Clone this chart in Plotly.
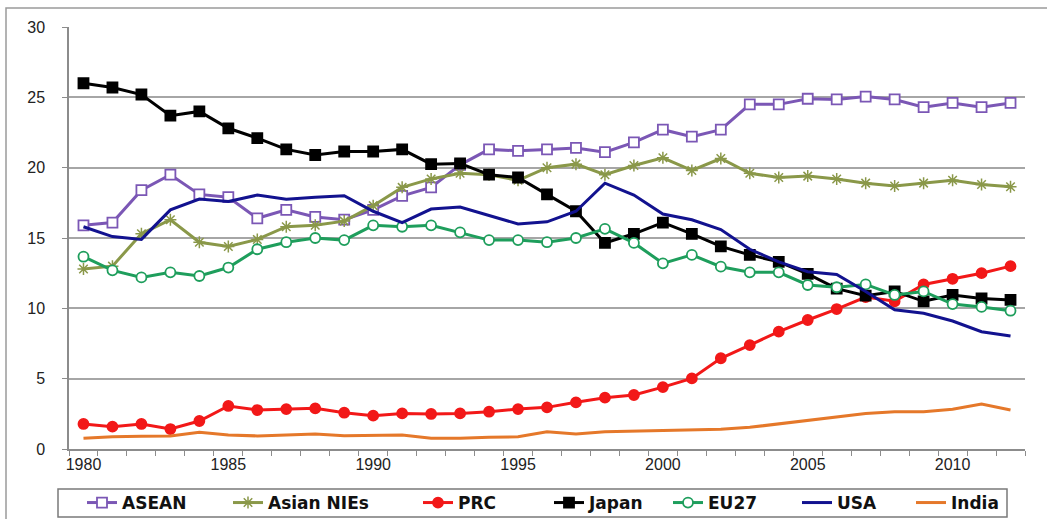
import plotly.graph_objects as go

years = list(range(1980, 2013))

asean = [15.9, 16.1, 18.4, 19.5, 18.1, 17.9, 16.4, 17.0, 16.5, 16.3, 17.0, 18.0, 18.6, 20.2, 21.3, 21.2,
         21.3, 21.4, 21.1, 21.8, 22.7, 22.2, 22.7, 24.5, 24.5, 24.9, 24.85, 25.05, 24.85, 24.3, 24.6, 24.3, 24.6]
nies = [12.8, 13.0, 15.3, 16.3, 14.7, 14.4, 14.9, 15.8, 15.9, 16.2, 17.3, 18.6, 19.2, 19.6, 19.5, 19.1,
        20.0, 20.25, 19.5, 20.15, 20.7, 19.8, 20.65, 19.6, 19.3, 19.4, 19.2, 18.9, 18.7, 18.9, 19.1, 18.8, 18.65]
prc = [1.78, 1.59, 1.78, 1.42, 1.99, 3.06, 2.77, 2.84, 2.89, 2.58, 2.37, 2.53, 2.49, 2.53, 2.65, 2.84,
       2.96, 3.32, 3.65, 3.84, 4.4, 5.02, 6.45, 7.39, 8.34, 9.17, 9.95, 10.8, 10.5, 11.7, 12.1, 12.5, 13.0]
japan = [26.0, 25.7, 25.2, 23.7, 24.0, 22.8, 22.1, 21.3, 20.9, 21.15, 21.15, 21.3, 20.25, 20.3, 19.5, 19.3,
         18.1, 16.9, 14.65, 15.3, 16.1, 15.3, 14.4, 13.8, 13.3, 12.45, 11.4, 10.9, 11.2, 10.5, 10.95, 10.7, 10.6]
eu27 = [13.67, 12.7, 12.2, 12.56, 12.3, 12.9, 14.2, 14.7, 15.0, 14.85, 15.9, 15.8, 15.9, 15.4, 14.85, 14.85,
        14.7, 15.0, 15.65, 14.65, 13.2, 13.8, 12.96, 12.56, 12.56, 11.66, 11.5, 11.7, 10.95, 11.2, 10.3, 10.1, 9.83]
usa = [15.8, 15.1, 14.9, 17.0, 17.77, 17.6, 18.05, 17.75, 17.9, 18.0, 16.9, 16.1, 17.06, 17.2, 16.6, 16.0,
       16.15, 16.9, 18.9, 18.05, 16.7, 16.3, 15.6, 14.2, 13.3, 12.6, 12.4, 11.2, 9.9, 9.65, 9.1, 8.34, 8.03]
india = [0.76, 0.87, 0.91, 0.93, 1.19, 1.0, 0.93, 1.0, 1.07, 0.95, 1.0, 1.0, 0.76, 0.76, 0.83, 0.87,
         1.23, 1.07, 1.23, 1.28, 1.28, 1.35, 1.4, 1.54, 1.78, 2.01, 2.25, 2.53, 2.65, 2.65, 2.82, 3.2, 2.77]

x_ticks = [1980, 1985, 1990, 1995, 2000, 2005, 2010]
y_ticks = [0, 5, 10, 15, 20, 25, 30]

FONT = "Liberation Sans, Arial, sans-serif"
LEG_FONT = dict(family="DejaVu Sans, sans-serif", size=17, color="#111111", weight="bold")

# plot-area geometry (px) used to place legend entries like the reference
L, R, T, B = 69, 22, 27, 70
W, H = 1047, 519
PW, PH = W - L - R, H - T - B

def px_x(px):
    return (px - L) / PW

def px_y(py):
    return (H - B - py) / PH

fig = go.Figure()
legend_text_x = [122, 268, 458, 589, 708, 837, 951]

def add(i, name, y, color, symbol=None, fill=None, size=9, mlw=1.8):
    mode = "lines+markers" if symbol else "lines"
    marker = dict()
    if symbol:
        marker = dict(symbol=symbol, size=size, color=fill if fill else color,
                      line=dict(color=color, width=mlw))
    lg = "legend" if i == 0 else f"legend{i+1}"
    fig.add_trace(go.Scatter(x=years, y=y, name=name, mode=mode, legend=lg,
                             line=dict(color=color, width=3), marker=marker))
    fig.update_layout({lg: dict(orientation="h", x=px_x(legend_text_x[i] - 40), xanchor="left",
                                y=px_y(503), yanchor="middle",
                                borderwidth=0, bgcolor="rgba(0,0,0,0)", font=LEG_FONT)})

add(0, "ASEAN", asean, "#7B57B5", "square", "white", size=10)
add(1, "Asian NIEs", nies, "#8A9849", "asterisk-open", None, size=10, mlw=1.5)
add(2, "PRC", prc, "#F21818", "circle", "#F21818", size=10)
add(3, "Japan", japan, "#000000", "square", "#000000", size=10)
add(4, "EU27", eu27, "#1E9E5C", "circle", "white", size=10)
add(5, "USA", usa, "#12128F")
add(6, "India", india, "#E5782A")

fig.update_layout(
    width=W, height=H,
    margin=dict(l=L, r=R, t=T, b=B, autoexpand=False),
    paper_bgcolor="white", plot_bgcolor="white",
    font=dict(family=FONT, size=16, color="#222222"),
    showlegend=True,
    xaxis=dict(range=[1979.5, 2012.5], tickvals=x_ticks, ticktext=[str(v) for v in x_ticks],
               ticks="", showgrid=False, zeroline=False,
               showline=True, linecolor="#8c8c8c", linewidth=1.5,
               tickfont=dict(size=16, color="#222222"),
               minor=dict(ticks="outside", tick0=1979.5, dtick=1, ticklen=5,
                          tickcolor="#8c8c8c", tickwidth=1.2, showgrid=False)),
    yaxis=dict(range=[0, 30], tickvals=y_ticks, showgrid=True, gridcolor="#a6a6a6", gridwidth=1.6,
               zeroline=False, showline=True, linecolor="#8c8c8c", linewidth=1.5,
               ticks="outside", ticklen=5, tickcolor="#8c8c8c",
               ticklabelstandoff=14,
               tickfont=dict(size=16, color="#222222")),
    shapes=[
        dict(type="rect", xref="paper", yref="paper",
             x0=px_x(6), x1=px_x(1060), y0=px_y(540), y1=px_y(8),
             line=dict(color="#9a9a9a", width=1.5), fillcolor="rgba(0,0,0,0)", layer="below"),
        dict(type="rect", xref="paper", yref="paper",
             x0=px_x(58), x1=px_x(1007), y0=px_y(517), y1=px_y(489),
             line=dict(color="#7a7a7a", width=1.5), fillcolor="rgba(0,0,0,0)", layer="below"),
    ],
)

fig.write_html("out.html", config={"displayModeBar": False},
               post_script="document.body.style.margin='0';")
